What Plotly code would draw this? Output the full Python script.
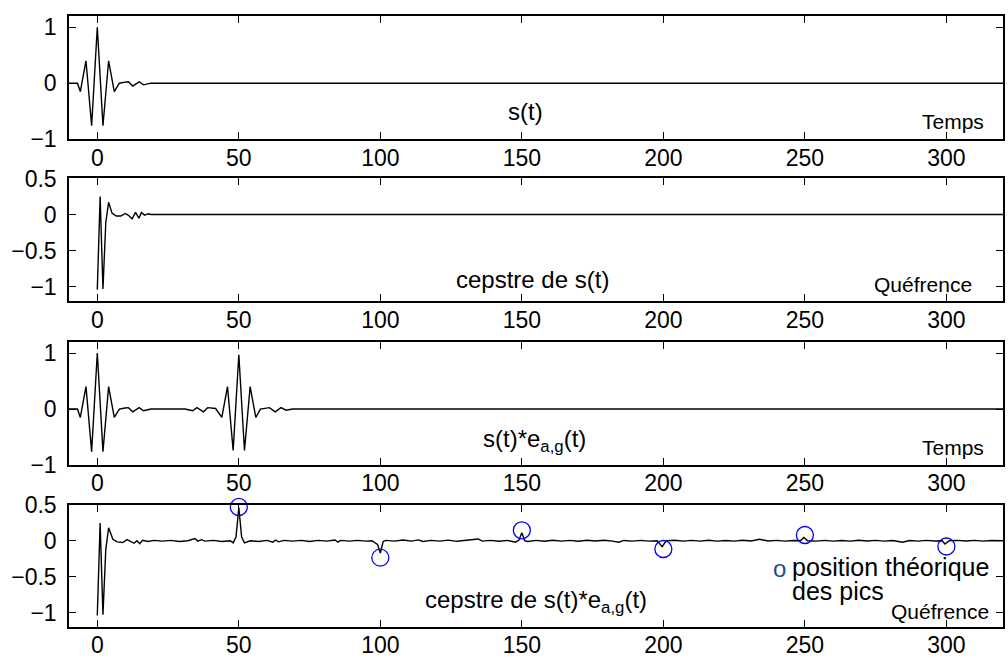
import plotly.graph_objects as go

# ---------------- data ----------------
# panel 1 : s(t)
t_s = [-10, -7, -6, -4, -2, 0, 2, 4, 6, 7.8, 9.8, 11, 12.5, 14.8, 16.3, 17.7, 19, 320]
y_s = [0, 0, -0.15, 0.40, -0.76, 1.0, -0.76, 0.40, -0.15, 0.0, 0.02, 0.025, -0.05, 0.025, -0.03, -0.01, 0, 0]

# panel 2 : cepstre de s(t)
t_cs = [0, 1, 2, 3, 4, 5.2, 6.7, 8.3, 9.9, 11, 12.3, 13.5, 14.7, 15.6, 16.7, 17.9, 19,
        22, 26, 28, 30, 32, 34, 36, 320]
y_cs = [-1.04, 0.25, -1.03, -0.11, 0.17, 0.02, -0.02, -0.02, 0.015, -0.01, -0.06, 0.03, -0.05,
        0.03, -0.01, 0.01, 0, 0, 0.004, -0.004, 0.004, -0.004, 0.004, 0, 0]

# panel 3 : s(t)*e_ag(t)
t_se = [-10, -7, -6, -4, -2, 0, 2, 4, 6, 7.8, 9.8, 11, 12.5, 14.8, 16.3, 17.7, 19,
        31, 33.7, 35.2, 37.5, 39, 41.8, 44, 46, 48, 50, 52, 54, 56, 57.6, 60.8, 62.9,
        64.9, 66.7, 69, 320]
y_se = [0, 0, -0.15, 0.40, -0.76, 1.0, -0.76, 0.40, -0.15, 0.0, 0.02, 0.025, -0.05, 0.025,
        -0.03, -0.01, 0, 0, -0.03, 0.025, -0.05, 0.025, 0.01, -0.15, 0.40, -0.74, 0.97,
        -0.74, 0.40, -0.15, 0.0, 0.025, -0.05, 0.025, -0.02, 0, 0]

# panel 4 : cepstre de s(t)*e_ag(t)
t_ce = [0, 1, 2, 3, 4, 5.5, 7, 9, 10.5, 12, 13, 14, 15, 16, 18, 20, 23, 26, 29, 32,
        34.5, 35.5, 36.8, 38, 41, 44, 47, 48, 49, 50, 51, 52, 54, 57, 60, 62, 63, 64,
        66, 69, 72, 75, 78, 81, 84, 85, 86, 89, 92, 95, 97, 99, 100, 101, 102, 105,
        108, 111, 113.5, 115, 118, 121, 124, 127, 130, 134.6, 136, 139, 142, 145, 147.7,
        149, 150, 151, 152, 155, 158, 161, 164, 167, 170, 173, 176, 179, 182, 184.3,
        186, 189, 192, 195, 197.8, 199.6, 201, 204, 207, 210, 213, 216, 219, 222, 225,
        228, 231, 234, 237, 240, 243, 246, 248.5, 249.6, 251, 254, 257, 260, 263, 266,
        269, 272, 275, 278, 281, 284.5, 287, 290, 293, 296, 298.5, 299.5, 301, 304,
        307, 310, 313, 316, 320]
y_ce = [-1.04, 0.245, -1.03, -0.12, 0.18, 0.02, -0.015, -0.025, 0.015, -0.01, -0.035,
        0.0, -0.04, 0.005, -0.01, 0.005, -0.005, 0.005, -0.01, 0.0, 0.03, -0.005, 0.015,
        -0.005, 0.005, -0.01, 0.0, -0.03, 0.05, 0.46, 0.05, -0.03, 0.0, -0.01, 0.005,
        -0.02, 0.01, -0.015, 0.005, -0.005, 0.005, -0.01, 0.005, -0.005, 0.01, -0.02,
        0.005, -0.005, 0.005, -0.005, 0.0, -0.05, -0.17, -0.01, 0.005, -0.005, 0.01,
        -0.005, 0.012, -0.01, 0.005, -0.005, 0.008, -0.008, 0.005, 0.025, -0.005, 0.005,
        -0.008, 0.005, -0.02, 0.01, 0.11, 0.0, -0.01, 0.005, -0.008, 0.006, -0.006,
        0.005, -0.008, 0.006, -0.004, 0.006, -0.006, -0.02, 0.004, -0.006, 0.005,
        -0.005, 0.0, -0.083, 0.0, 0.006, -0.006, 0.005, -0.005, 0.006, -0.006, 0.004,
        -0.005, 0.006, -0.004, 0.02, -0.004, 0.005, -0.006, 0.004, 0.0, 0.046, 0.0,
        -0.005, 0.005, -0.006, 0.004, -0.005, 0.006, -0.004, 0.005, -0.006, 0.004,
        -0.02, 0.004, -0.005, 0.005, -0.004, 0.0, -0.046, 0.0, 0.005, -0.004, 0.005,
        -0.005, 0.004, 0.0]

# theoretical peak positions (blue circles)
t_peaks = [50, 100, 150, 200, 250, 300]
y_peaks = [0.47, -0.235, 0.145, -0.115, 0.08, -0.08]

x_ticks = [0, 50, 100, 150, 200, 250, 300]
y_ticks_sig = [-1, 0, 1]
y_ticks_cep = [-1, -0.5, 0, 0.5]

# ---------------- figure ----------------
FONT = "Liberation Sans, Arial, Helvetica, sans-serif"
fig = go.Figure()

series = [(t_s, y_s, 1), (t_cs, y_cs, 2), (t_se, y_se, 3), (t_ce, y_ce, 4)]
for tx, ty, k in series:
    fig.add_trace(go.Scatter(x=tx, y=ty, mode="lines",
                             line=dict(color="black", width=1.4),
                             xaxis="x" if k == 1 else f"x{k}",
                             yaxis="y" if k == 1 else f"y{k}",
                             showlegend=False, hoverinfo="skip"))

fig.add_trace(go.Scatter(x=t_peaks, y=y_peaks, mode="markers", cliponaxis=False,
                         marker=dict(symbol="circle-open", size=17,
                                     color="#0000ff", line=dict(width=1.3, color="#0000ff")),
                         xaxis="x4", yaxis="y4", showlegend=False, hoverinfo="skip"))

domains = [(0.7984, 1.0), (0.5333, 0.7341), (0.2650, 0.4667), (0.0, 0.2)]
yranges = [[-1, 1.2], [-1.2, 0.5], [-1, 1.2], [-1.2, 0.5]]
yticks = [y_ticks_sig, y_ticks_cep, y_ticks_sig, y_ticks_cep]

axcommon = dict(showline=True, linecolor="black", linewidth=1.5, mirror="ticks",
                ticks="inside", ticklen=7, tickwidth=1, tickcolor="black",
                showgrid=False, zeroline=False,
                tickfont=dict(family=FONT, size=23, color="black"))

layout = dict(
    width=1008, height=664, autosize=False,
    margin=dict(l=69, r=3, t=12, b=37),
    plot_bgcolor="white", paper_bgcolor="white",
    font=dict(family=FONT, color="black"),
)
for i in range(4):
    k = i + 1
    xn = "xaxis" if k == 1 else f"xaxis{k}"
    yn = "yaxis" if k == 1 else f"yaxis{k}"
    layout[xn] = dict(axcommon, domain=[0, 1], range=[-10, 320],
                      tickvals=x_ticks, ticklabelstandoff=-3,
                      anchor="y" if k == 1 else f"y{k}")
    layout[yn] = dict(axcommon, domain=list(domains[i]), range=yranges[i],
                      tickvals=yticks[i], ticklabelstandoff=6,
                      anchor="x" if k == 1 else f"x{k}")
fig.update_layout(**layout)

def ann(text, x, y, k, size=24, xanchor="center", color="black"):
    fig.add_annotation(text=text, x=x, y=y,
                       xref="x" if k == 1 else f"x{k}",
                       yref="y" if k == 1 else f"y{k}",
                       showarrow=False, xanchor=xanchor, yanchor="middle",
                       font=dict(family=FONT, size=size, color=color))

ann("s(t)", 151.4, -0.51, 1)
ann("Temps", 302.2, -0.69, 1, size=21)
ann("cepstre de s(t)", 153.6, -0.90, 2)
ann("Quéfrence", 291.6, -0.97, 2, size=21)
ann("s(t)*e<sub>a,g</sub>(t)", 154.3, -0.57, 3)
ann("Temps", 302.2, -0.69, 3, size=21)
ann("cepstre de s(t)*e<sub>a,g</sub>(t)", 155, -0.85, 4)
ann("o", 241, -0.38, 4, size=24, color="#1f4e8c")
ann("position théorique", 244.8, -0.37, 4, size=25, xanchor="left")
ann("des pics", 244.6, -0.70, 4, size=25, xanchor="left")
ann("Quéfrence", 297.8, -0.987, 4, size=21)

fig.write_html("out.html", config={"displayModeBar": False},
               post_script="document.body.style.margin='0';")
